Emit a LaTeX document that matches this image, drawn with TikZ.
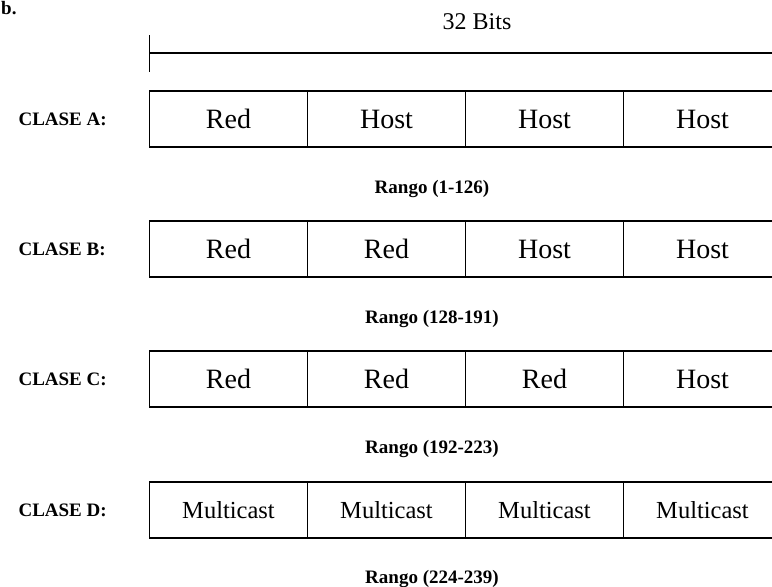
\documentclass[tikz,border=0pt]{standalone}
\usepackage{fontspec}
\setmainfont{Liberation Serif}
\usetikzlibrary{positioning}

\begin{document}
\begin{tikzpicture}[
  x=1pt, y=-1pt,
  cell/.style={draw, line width=1.5pt, outer sep=0pt, inner sep=0pt,
               minimum width=158pt, minimum height=56pt,
               font=\rmfamily\fontsize{28}{30}\selectfont},
  mcell/.style={cell, font=\rmfamily\fontsize{24.5}{27}\selectfont},
  clase/.style={anchor=base west, font=\rmfamily\bfseries\fontsize{19}{21}\selectfont},
  rango/.style={anchor=base, font=\rmfamily\bfseries\fontsize{19}{21}\selectfont},
  rule/.style={line width=1.5pt}
]
\useasboundingbox (0,0) rectangle (772,587);

%% Heading and width marker
\node[anchor=base west, inner sep=0pt, font=\rmfamily\bfseries\fontsize{19}{21}\selectfont] (item) at (1,14) {b.};
\node[anchor=base, font=\rmfamily\fontsize{24}{26}\selectfont] (bits) at (477,29) {32 Bits};
\coordinate (tickTop) at (149.5,35);
\coordinate (tickBot) at (149.5,72);
\coordinate (lineL) at (149.5,53);
\coordinate (lineR) at (790,53);
\draw[rule] (tickTop) -- (tickBot);
\draw[rule] (lineL) -- (lineR);

%% Clase A
\node[clase] (claseA) at (15,125) {CLASE A:};
\node[cell, anchor=west] (a1) at (149.5,119) {Red};
\node[cell, right=0pt of a1] (a2) {Host};
\node[cell, right=0pt of a2] (a3) {Host};
\node[cell, right=0pt of a3] (a4) {Host};
\node[rango] (rangoA) at (432,193) {Rango (1-126)};

%% Clase B
\node[clase] (claseB) at (15,255) {CLASE B:};
\node[cell, anchor=west] (b1) at (149.5,249) {Red};
\node[cell, right=0pt of b1] (b2) {Red};
\node[cell, right=0pt of b2] (b3) {Host};
\node[cell, right=0pt of b3] (b4) {Host};
\node[rango] (rangoB) at (432,323) {Rango (128-191)};

%% Clase C
\node[clase] (claseC) at (15,385) {CLASE C:};
\node[cell, anchor=west] (c1) at (149.5,379) {Red};
\node[cell, right=0pt of c1] (c2) {Red};
\node[cell, right=0pt of c2] (c3) {Red};
\node[cell, right=0pt of c3] (c4) {Host};
\node[rango] (rangoC) at (432,453) {Rango (192-223)};

%% Clase D
\node[clase] (claseD) at (15,516) {CLASE D:};
\node[mcell, anchor=west] (d1) at (149.5,510) {Multicast};
\node[mcell, right=0pt of d1] (d2) {Multicast};
\node[mcell, right=0pt of d2] (d3) {Multicast};
\node[mcell, right=0pt of d3] (d4) {Multicast};
\node[rango] (rangoD) at (432,583) {Rango (224-239)};

\end{tikzpicture}
\end{document}
